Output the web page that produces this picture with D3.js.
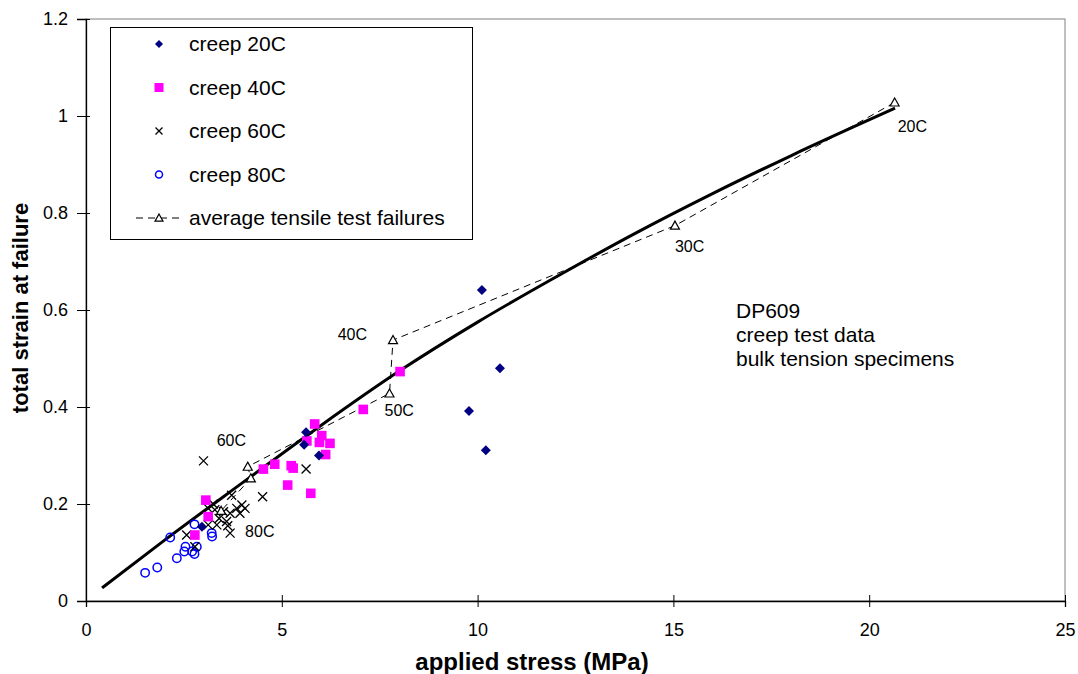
<!DOCTYPE html>
<html><head><meta charset="utf-8">
<script src="https://cdn.jsdelivr.net/npm/d3@7"></script>
<style>
html,body{margin:0;padding:0;background:#fff;}
svg text{font-family:"Liberation Sans",Arial,sans-serif;fill:#000;}
</style></head>
<body><svg id="c" width="1078" height="674"></svg>
<script>
// ---- data ----
const xTicks = [0,5,10,15,20,25];
const yTicks = [0,0.2,0.4,0.6,0.8,1,1.2];
const yTickLabels = ["0","0.2","0.4","0.6","0.8","1","1.2"];

const creep20x = [10.11,10.57,9.78,10.21,5.62,5.57,5.95,2.96];
const creep20y = [0.641,0.480,0.392,0.311,0.348,0.322,0.300,0.153];

const creep40x = [3.06,3.12,2.78,4.53,4.82,5.24,5.29,5.15,5.74,5.84,5.64,6.02,5.96,6.23,6.12,7.08,8.02];
const creep40y = [0.208,0.174,0.136,0.272,0.282,0.279,0.274,0.239,0.222,0.365,0.330,0.341,0.327,0.325,0.302,0.395,0.473];

const creep60x = [3.00,5.62,4.51,3.72,3.12,3.29,3.85,3.98,4.06,3.93,3.68,3.51,3.12,3.34,3.59,3.62,3.68,2.57,2.78,3.25,3.40];
const creep60y = [0.289,0.272,0.215,0.218,0.191,0.188,0.191,0.198,0.191,0.181,0.181,0.184,0.157,0.157,0.164,0.155,0.140,0.136,0.112,0.200,0.170];

const creep80x = [1.51,1.82,2.15,2.32,2.51,2.54,2.77,2.71,2.77,2.83,3.21,3.22];
const creep80y = [0.058,0.069,0.131,0.088,0.102,0.112,0.158,0.102,0.097,0.112,0.140,0.133];

const tensileX = [20.65,15.04,7.84,7.75,4.13,4.21,3.45];
const tensileY = [1.028,0.774,0.538,0.428,0.277,0.253,0.186];
const tensileLabels = ["20C","30C","40C","50C","60C","","80C"];

const fitX = [0.41,2,4,6,8,10,12,14,16,18,20.66];
const fitY = [0.027,0.125,0.244,0.362,0.474,0.575,0.668,0.757,0.840,0.918,1.016];

const legendLabels = ["creep 20C","creep 40C","creep 60C","creep 80C","average tensile test failures"];
const noteLines = ["DP609","creep test data","bulk tension specimens"];

// ---- styling / layout ----
const labelOffsets = [[3,24,"start"],[0,21,"start"],[-26,-6,"end"],[-5,17,"start"],[-31,-26,"start"],[0,0,"start"],[24,21,"start"]];

const svg = d3.select("#c");
const L=86,R=1065,T=19,B=601;
const x = d3.scaleLinear().domain([0,25]).range([L,R]);
const y = d3.scaleLinear().domain([0,1.2]).range([B,T]);

// plot border
svg.append("rect").attr("x",L).attr("y",T).attr("width",R-L).attr("height",B-T)
  .attr("fill","none").attr("stroke","#808080").attr("stroke-width",1);

// axes
const xAxis = svg.append("g").attr("transform",`translate(0,${B})`)
  .call(d3.axisBottom(x).tickValues(xTicks).tickSize(6).tickFormat(d3.format("d")));
xAxis.select(".domain").attr("stroke","#000").attr("stroke-width",1.3);
xAxis.selectAll(".tick line").attr("y1",-6).attr("y2",6).attr("stroke","#000");
xAxis.selectAll(".tick text").attr("font-size",18).attr("y",22).attr("dy","0.71em")
  .style("font-family","'Liberation Sans',Arial,sans-serif");

const yAxis = svg.append("g").attr("transform",`translate(${L},0)`)
  .call(d3.axisLeft(y).tickValues(yTicks).tickSize(9).tickFormat((d,i)=>yTickLabels[i]));
yAxis.select(".domain").attr("stroke","#000").attr("stroke-width",1.3);
yAxis.selectAll(".tick line").attr("x1",-9).attr("x2",4).attr("stroke","#000");
yAxis.selectAll(".tick text").attr("font-size",18).attr("x",-18)
  .style("font-family","'Liberation Sans',Arial,sans-serif");

// axis titles
svg.append("text").attr("x",532).attr("y",670).attr("text-anchor","middle")
  .attr("font-size",24).attr("font-weight","bold").text("applied stress (MPa)");
svg.append("text").attr("transform",`translate(28,308) rotate(-90)`).attr("text-anchor","middle")
  .attr("font-size",22).attr("font-weight","bold").text("total strain at failure");

// fit curve
const fitData = fitX.map((v,i)=>[v,fitY[i]]);
svg.append("path").datum(fitData)
  .attr("d",d3.line().x(d=>x(d[0])).y(d=>y(d[1])).curve(d3.curveMonotoneX))
  .attr("fill","none").attr("stroke","#000").attr("stroke-width",3);

// tensile dashed line
const tens = tensileX.map((v,i)=>[v,tensileY[i],tensileLabels[i]]);
svg.append("path").datum(tens)
  .attr("d",d3.line().x(d=>x(d[0])).y(d=>y(d[1])))
  .attr("fill","none").attr("stroke","#000").attr("stroke-width",1).attr("stroke-dasharray","7,5");

// markers
function diamond(g,s){ g.append("path").attr("d",`M0,${-s}L${s},0L0,${s}L${-s},0Z`).attr("fill","#000080"); }
function square(g,s){ g.append("rect").attr("x",-s).attr("y",-s).attr("width",2*s).attr("height",2*s).attr("fill","#FF00FF"); }
function cross(g,s){ g.append("path").attr("d",`M${-s},${-s}L${s},${s}M${-s},${s}L${s},${-s}`).attr("stroke","#000").attr("stroke-width",1.3).attr("fill","none"); }
function circ(g,s){ g.append("circle").attr("r",s).attr("fill","none").attr("stroke","#0000FF").attr("stroke-width",1.5); }
function tri(g,s){ g.append("path").attr("d",`M0,${-s}L${s},${s*0.8}L${-s},${s*0.8}Z`).attr("fill","#fff").attr("stroke","#000").attr("stroke-width",1.2); }

function plot(xs,ys,fn,s){
  const g = svg.append("g");
  g.selectAll("g").data(xs.map((v,i)=>[v,ys[i]])).join("g")
    .attr("transform",d=>`translate(${x(d[0])},${y(d[1])})`)
    .each(function(){ fn(d3.select(this),s); });
}
plot(creep80x,creep80y,circ,4.2);
plot(creep60x,creep60y,cross,4.5);
plot(creep40x,creep40y,square,4.8);
plot(creep20x,creep20y,diamond,5);
plot(tensileX,tensileY,tri,4.5);

// tensile labels
svg.append("g").selectAll("text").data(tens).join("text")
  .attr("x",(d,i)=>x(d[0])+labelOffsets[i][0])
  .attr("y",(d,i)=>y(d[1])+labelOffsets[i][1])
  .attr("dy","0.35em")
  .attr("text-anchor",(d,i)=>labelOffsets[i][2])
  .attr("font-size",16).text(d=>d[2]);

// note
svg.append("g").selectAll("text").data(noteLines).join("text")
  .attr("x",736).attr("y",(d,i)=>311+i*24).attr("dy","0.35em")
  .attr("font-size",21).text(d=>d);

// legend
const lg = svg.append("g");
lg.append("rect").attr("x",110.5).attr("y",27.5).attr("width",362).attr("height",212)
  .attr("fill","#fff").attr("stroke","#000").attr("stroke-width",1);
const ly0 = 44, ldy = 43.5;
const lfns = [[diamond,4],[square,4.5],[cross,3.5],[circ,3.5],[tri,4]];
legendLabels.forEach((t,i)=>{
  const yy = ly0 + i*ldy;
  if(i===4){
    lg.append("line").attr("x1",136).attr("x2",183).attr("y1",yy).attr("y2",yy)
      .attr("stroke","#000").attr("stroke-dasharray","7,5");
  }
  const g = lg.append("g").attr("transform",`translate(159,${yy})`);
  lfns[i][0](g,lfns[i][1]);
  lg.append("text").attr("x",189).attr("y",yy).attr("dy","0.35em").attr("font-size",21).text(t);
});
</script></body></html>
